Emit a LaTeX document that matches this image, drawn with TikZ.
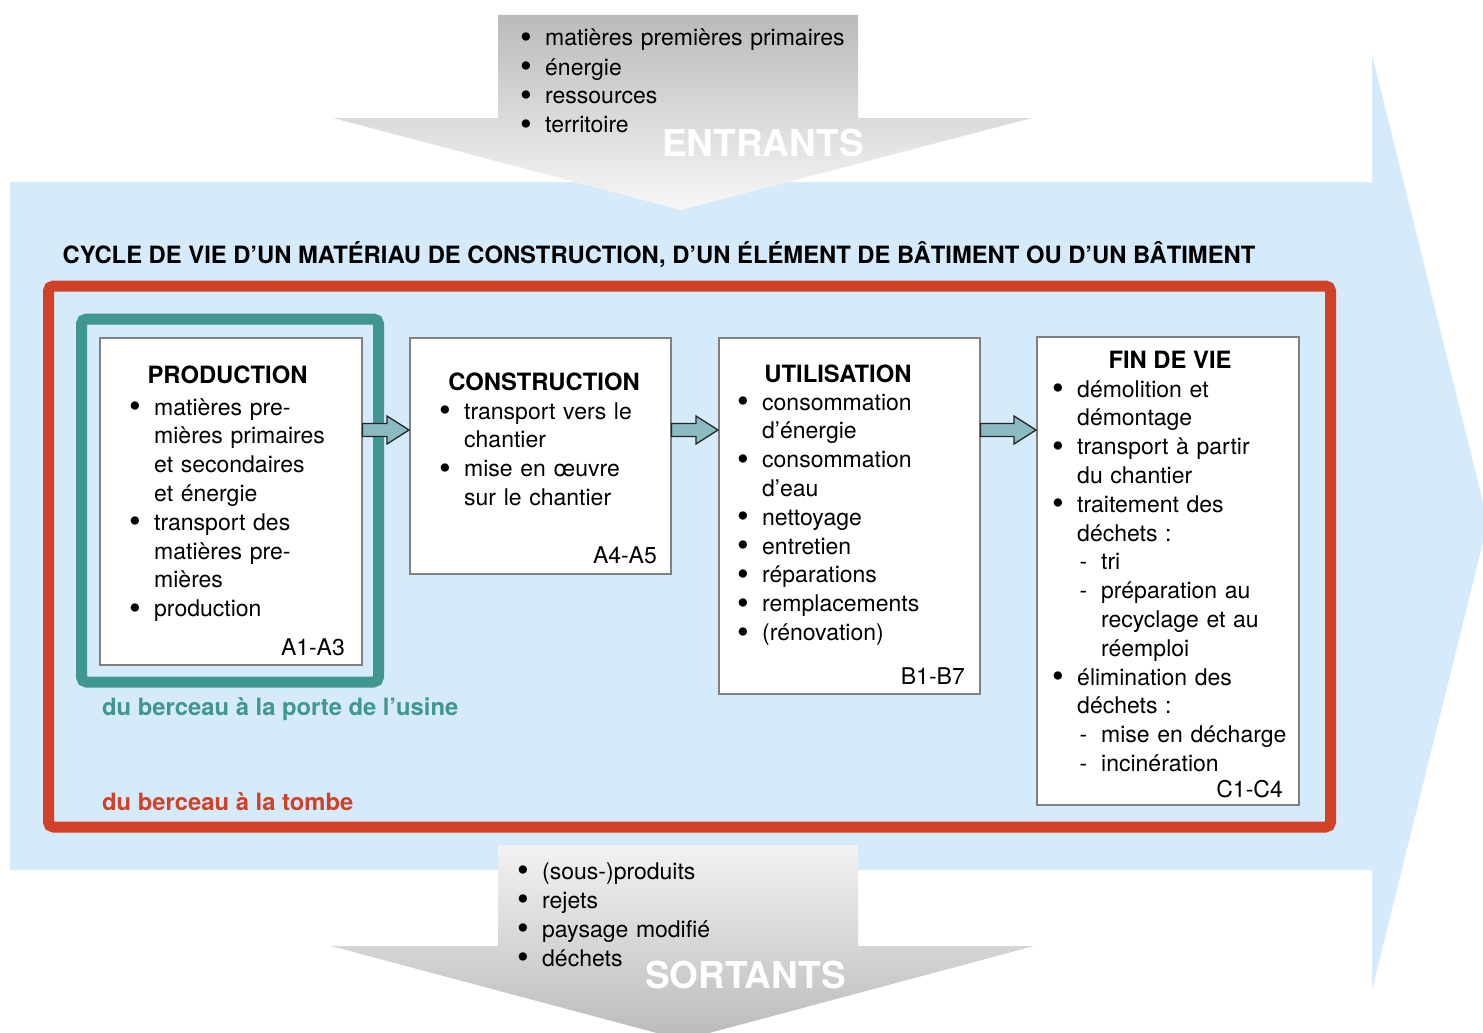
\documentclass[tikz,border=0pt]{standalone}
\usepackage{fontspec}
\setmainfont{TeX Gyre Heros}
\usetikzlibrary{calc}

\definecolor{skyfill}{RGB}{213,234,250}
\definecolor{lcared}{RGB}{208,65,40}
\definecolor{lcateal}{RGB}{63,150,147}
\definecolor{flowfill}{RGB}{138,186,194}
\definecolor{boxline}{RGB}{128,128,128}

% bullet, continuation and dash lines
\newcommand{\itm}[1]{\makebox[23pt][l]{\hspace*{-2pt}\smash{\raisebox{-2.6pt}{\scalebox{1.45}{\textbullet}}}}#1}
\newcommand{\cnt}[1]{\hspace*{23pt}#1}
\newcommand{\dsh}[1]{\hspace*{25.5pt}\makebox[21.5pt][l]{-}#1}
\newcommand{\dcnt}[1]{\hspace*{47pt}#1}

\tikzset{
  stage/.style={draw=boxline, line width=1.5pt, fill=white, anchor=north west, inner sep=0pt},
  itemlist/.style={anchor=base west, inner sep=0pt, text width=300pt, align=left,
    font=\fontsize{23}{28.8}\selectfont},
  stagetitle/.style={anchor=base, inner sep=0pt, font=\fontsize{23.8}{28}\selectfont\bfseries},
  stagecode/.style={anchor=base east, inner sep=0pt, font=\fontsize{23}{28}\selectfont},
  flowword/.style={anchor=base west, inner sep=0pt, text=white, font=\fontsize{37}{40}\selectfont\bfseries},
  scope/.style={anchor=base west, inner sep=0pt, font=\fontsize{23.8}{28}\selectfont\bfseries},
  flow/.style={draw=black!85, line width=1.3pt, fill=flowfill, line join=miter,
    to path={let \p1=(\tikztostart), \p2=(\tikztotarget) in
      (\x1,\y1+6.5) -- (\x2-22,\y1+6.5) -- (\x2-22,\y1+14) -- (\x2,\y1)
      -- (\x2-22,\y1-14) -- (\x2-22,\y1-6.5) -- (\x1,\y1-6.5) -- cycle}},
}

\begin{document}
\begin{tikzpicture}[x=1pt,y=-1pt]
    \useasboundingbox (0,0) rectangle (1483,1033);
    \fill[white] (0,0) rectangle (1483,1033);

    % big arrow of the life cycle
    \fill[skyfill] (10,182) -- (1372,182) -- (1372,55) -- (1488,522)
        -- (1372,990) -- (1372,870) -- (10,870) -- cycle;

    % inputs and outputs
    \shade[top color=black!27, bottom color=black!3] (498,15) -- (858,15) -- (858,118)
        -- (1032,118) -- (681,210) -- (333,118) -- (498,118) -- cycle;
    \shade[top color=black!5, middle color=black!25, bottom color=black!27] (498,845)
        -- (858,845) -- (858,946) -- (1034,946) -- (683,1040) -- (331,946) -- (498,946) -- cycle;

    \node[itemlist, text width=340pt, font=\fontsize{23}{29}\selectfont] (inlist) at (522,46)
        {\itm{matières premières primaires}\\ \itm{énergie}\\ \itm{ressources}\\ \itm{territoire}};
    \node[flowword] (inword) at (662,156) {ENTRANTS};
    \node[itemlist, text width=340pt, font=\fontsize{23}{29}\selectfont] (outlist) at (519,879)
        {\itm{(sous-)produits}\\ \itm{rejets}\\ \itm{paysage modifié}\\ \itm{déchets}};
    \node[flowword] (outword) at (645,988) {SORTANTS};

    \node[stagetitle] (cycle) at (659,263)
        {CYCLE DE VIE D’UN MATÉRIAU DE CONSTRUCTION, D’UN ÉLÉMENT DE BÂTIMENT OU D’UN BÂTIMENT};

    % cradle to grave / cradle to gate
    \draw[lcared, line width=11pt, rounded corners=5pt] (48.5,286) rectangle (1330.5,827);
    \draw[lcateal, line width=11pt, rounded corners=5pt] (81.5,319) rectangle (378.5,682);
    \node[scope, text=lcateal] (gate) at (102,715) {du berceau à la porte de l’usine};
    \node[scope, text=lcared] (grave) at (102,810) {du berceau à la tombe};

    % stages
    \node[stage, minimum width=262pt, minimum height=327pt] (prod) at (99,337) {};
    \node[stage, minimum width=261pt, minimum height=236pt] (cons) at (409,337) {};
    \node[stage, minimum width=261pt, minimum height=356pt] (util) at (718,337) {};
    \node[stage, minimum width=262pt, minimum height=468pt] (fin) at (1036,336) {};

    \node[stagetitle] (prodtitle) at (227.5,383) {PRODUCTION};
    \node[itemlist] (prodlist) at (131,415)
        {\itm{matières pre-}\\ \cnt{mières primaires}\\ \cnt{et secondaires}\\ \cnt{et énergie}\\
         \itm{transport des}\\ \cnt{matières pre-}\\ \cnt{mières}\\ \itm{production}};
    \node[stagecode] (prodcode) at (345,655) {A1-A3};

    \node[stagetitle] (constitle) at (544,390) {CONSTRUCTION};
    \node[itemlist] (conslist) at (441,419)
        {\itm{transport vers le}\\ \cnt{chantier}\\ \itm{mise en œuvre}\\ \cnt{sur le chantier}};
    \node[stagecode] (conscode) at (657,563) {A4-A5};

    \node[stagetitle] (utiltitle) at (838,382) {UTILISATION};
    \node[itemlist] (utillist) at (739,410)
        {\itm{consommation}\\ \cnt{d’énergie}\\ \itm{consommation}\\ \cnt{d’eau}\\ \itm{nettoyage}\\
         \itm{entretien}\\ \itm{réparations}\\ \itm{remplacements}\\ \itm{(rénovation)}};
    \node[stagecode] (utilcode) at (965,684) {B1-B7};

    \node[stagetitle] (fintitle) at (1170,368) {FIN DE VIE};
    \node[itemlist] (finlist) at (1054,397)
        {\itm{démolition et}\\ \cnt{démontage}\\ \itm{transport à partir}\\ \cnt{du chantier}\\
         \itm{traitement des}\\ \cnt{déchets :}\\ \dsh{tri}\\ \dsh{préparation au}\\
         \dcnt{recyclage et au}\\ \dcnt{réemploi}\\ \itm{élimination des}\\ \cnt{déchets :}\\
         \dsh{mise en décharge}\\ \dsh{incinération}};
    \node[stagecode] (fincode) at (1283,797) {C1-C4};

    % flow between the stages
    \coordinate (flowline) at (0,430);
    \draw[flow] (prod.east |- flowline) to (cons.west |- flowline);
    \draw[flow] (cons.east |- flowline) to (util.west |- flowline);
    \draw[flow] (util.east |- flowline) to (fin.west |- flowline);

\end{tikzpicture}
\end{document}
